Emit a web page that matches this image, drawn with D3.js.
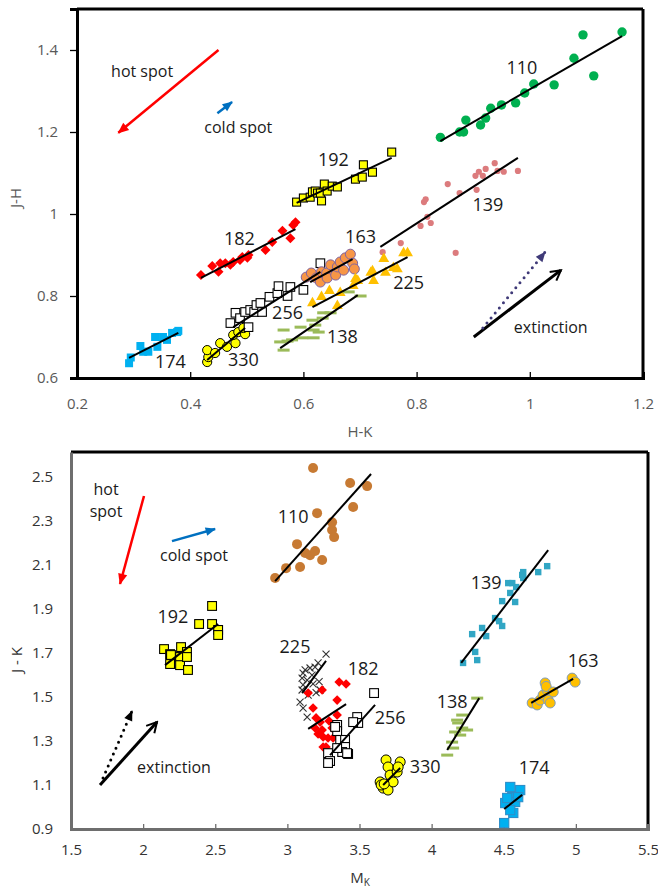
<!DOCTYPE html>
<meta charset="utf-8">
<head>
  <title>Colour-colour and colour-magnitude diagrams</title>
</head>

<style>
body {
  margin: 0;
  background: #fff;
  font-family: "Open Sans", "Liberation Sans", sans-serif;
}
</style>

<body>
  <div id="content">
    <svg width="658" height="888"></svg>
  </div>

  <script src="https://cdnjs.cloudflare.com/ajax/libs/d3/7.8.5/d3.min.js"></script>

  <script>
// ---- top panel: H-K vs J-H ----
var jhGroups = ['110', '139', '192', '182', '174', '330', '256', '163', '225', '138'];

var jh110 = [[0.842,1.187],[0.876,1.200],[0.883,1.200],[0.887,1.229],[0.913,1.217],[0.922,1.234],[0.931,1.258],[0.950,1.266],[0.975,1.271],[0.991,1.295],[1.007,1.317],[1.043,1.315],[1.078,1.380],[1.094,1.437],[1.113,1.337],[1.163,1.444]];
var jh139 = [[0.740,0.907],[0.772,0.929],[0.807,0.971],[0.813,1.029],[0.816,1.036],[0.819,0.993],[0.825,0.978],[0.855,1.073],[0.876,1.051],[0.869,0.905],[0.904,1.093],[0.906,1.059],[0.910,1.103],[0.917,1.093],[0.922,1.110],[0.938,1.124],[0.943,1.105],[0.954,1.103],[0.979,1.105]];
var jh192 = [[0.588,1.029],[0.600,1.039],[0.612,1.041],[0.616,1.054],[0.621,1.056],[0.625,1.051],[0.632,1.032],[0.630,1.051],[0.637,1.073],[0.642,1.056],[0.651,1.068],[0.660,1.066],[0.692,1.085],[0.704,1.090],[0.706,1.120],[0.722,1.102],[0.756,1.151]];
var jh182 = [[0.419,0.851],[0.439,0.873],[0.450,0.859],[0.453,0.880],[0.462,0.880],[0.471,0.876],[0.476,0.883],[0.488,0.888],[0.492,0.895],[0.501,0.893],[0.503,0.900],[0.533,0.912],[0.545,0.932],[0.563,0.959],[0.577,0.941],[0.582,0.973],[0.586,0.980]];
var jh174 = [[0.292,0.636],[0.295,0.650],[0.312,0.678],[0.317,0.664],[0.326,0.664],[0.338,0.700],[0.342,0.676],[0.352,0.700],[0.359,0.693],[0.368,0.710],[0.377,0.712],[0.379,0.715]];
var jh330 = [[0.430,0.639],[0.432,0.651],[0.430,0.668],[0.444,0.661],[0.453,0.685],[0.465,0.676],[0.480,0.685],[0.476,0.705],[0.485,0.712],[0.497,0.707],[0.494,0.722]];
var jh256 = [[0.471,0.734],[0.480,0.759],[0.488,0.746],[0.503,0.724],[0.497,0.761],[0.506,0.766],[0.513,0.761],[0.517,0.778],[0.524,0.783],[0.527,0.761],[0.540,0.798],[0.554,0.807],[0.556,0.824],[0.572,0.800],[0.577,0.822],[0.600,0.815],[0.630,0.880]];
var jh163 = [[0.605,0.846],[0.614,0.856],[0.623,0.844],[0.630,0.834],[0.632,0.859],[0.641,0.856],[0.642,0.844],[0.648,0.876],[0.657,0.851],[0.660,0.871],[0.665,0.883],[0.671,0.863],[0.674,0.893],[0.683,0.902],[0.687,0.880],[0.690,0.866]];
var jh225 = [[0.616,0.785],[0.632,0.800],[0.646,0.815],[0.660,0.778],[0.665,0.810],[0.688,0.827],[0.692,0.844],[0.696,0.839],[0.719,0.859],[0.724,0.839],[0.722,0.863],[0.742,0.893],[0.745,0.859],[0.759,0.871],[0.766,0.868],[0.777,0.907],[0.784,0.907]];
var jh138 = [[0.559,0.688],[0.565,0.668],[0.565,0.717],[0.572,0.690],[0.580,0.693],[0.595,0.724],[0.598,0.698],[0.616,0.741],[0.618,0.717],[0.618,0.698],[0.621,0.729],[0.627,0.712],[0.634,0.746],[0.635,0.759],[0.648,0.759],[0.680,0.810],[0.701,0.800]];

var jhFits = [[0.842,1.178,1.163,1.434],[0.736,0.920,0.979,1.137],[0.588,1.027,0.756,1.137],[0.419,0.844,0.586,0.963],[0.292,0.649,0.379,0.710],[0.430,0.644,0.497,0.722],[0.476,0.724,0.630,0.859],[0.612,0.834,0.687,0.890],[0.616,0.773,0.784,0.895],[0.559,0.673,0.696,0.802]];
var jhLabels = [[0.986,1.356],[0.926,1.022],[0.653,1.132],[0.487,0.939],[0.365,0.639],[0.494,0.644],[0.572,0.759],[0.701,0.944],[0.786,0.832],[0.669,0.700]];

var jhXTicks = [0.2, 0.4, 0.6, 0.8, 1.0, 1.2];
var jhXTickLabels = ['0.2', '0.4', '0.6', '0.8', '1', '1.2'];
var jhYTicks = [0.6, 0.8, 1.0, 1.2, 1.4];
var jhYTickLabels = ['0.6', '0.8', '1', '1.2', '1.4'];

// ---- bottom panel: M_K vs J-K ----
var jkGroups = ['110', '192', '139', '163', '138', '174', '330', '225', '182', '256'];

var jk110 = [[2.915,2.041],[2.991,2.086],[3.067,2.195],[3.088,2.091],[3.123,2.155],[3.157,2.145],[3.192,2.164],[3.206,2.336],[3.178,2.541],[3.241,2.123],[3.310,2.295],[3.310,2.259],[3.324,2.227],[3.456,2.364],[3.435,2.473],[3.553,2.459]];
var jk192 = [[2.145,1.718],[2.187,1.695],[2.263,1.727],[2.304,1.705],[2.388,1.832],[2.478,1.914],[2.478,1.832],[2.520,1.805],[2.520,1.782],[2.193,1.691],[2.256,1.682],[2.187,1.650],[2.256,1.645],[2.304,1.682],[2.311,1.623]];
var jk139 = [[4.218,1.655],[4.316,1.668],[4.302,1.705],[4.281,1.786],[4.350,1.814],[4.378,1.777],[4.440,1.859],[4.468,1.845],[4.489,1.823],[4.489,1.936],[4.545,1.973],[4.579,1.932],[4.531,2.018],[4.559,2.018],[4.586,2.000],[4.628,2.055],[4.635,2.068],[4.635,2.041],[4.739,2.068],[4.801,2.095]];
var jk163 = [[4.697,1.473],[4.732,1.464],[4.752,1.486],[4.773,1.509],[4.801,1.532],[4.808,1.486],[4.822,1.473],[4.787,1.564],[4.794,1.548],[4.843,1.523],[4.974,1.586],[4.995,1.568]];
var jk138 = [[4.316,1.495],[4.177,1.395],[4.184,1.382],[4.212,1.359],[4.163,1.341],[4.198,1.327],[4.142,1.295],[4.149,1.268],[4.108,1.236],[4.246,1.350],[4.212,1.418]];
var jk174 = [[4.503,0.927],[4.545,1.091],[4.614,1.077],[4.559,1.045],[4.510,1.018],[4.566,0.973],[4.579,1.023],[4.545,0.986],[4.600,1.045],[4.524,1.041]];
var jk330 = [[3.684,1.214],[3.698,1.182],[3.712,1.145],[3.643,1.114],[3.664,1.086],[3.698,1.077],[3.733,1.114],[3.761,1.159],[3.782,1.205],[3.768,1.182],[3.650,1.100],[3.671,1.105]];
var jk225 = [[3.268,1.695],[3.213,1.655],[3.192,1.636],[3.157,1.632],[3.123,1.623],[3.109,1.609],[3.102,1.586],[3.137,1.577],[3.109,1.555],[3.171,1.600],[3.102,1.532],[3.144,1.509],[3.088,1.477],[3.109,1.450],[3.137,1.409],[3.178,1.560],[3.220,1.570],[3.227,1.532],[3.199,1.520]];
var jk182 = [[3.359,1.568],[3.407,1.559],[3.241,1.532],[3.144,1.518],[3.345,1.486],[3.178,1.450],[3.199,1.405],[3.227,1.386],[3.289,1.391],[3.192,1.359],[3.241,1.350],[3.213,1.332],[3.248,1.318],[3.282,1.314],[3.310,1.359],[3.248,1.273],[3.268,1.273],[3.317,1.314],[3.345,1.418]];
var jk256 = [[3.601,1.518],[3.484,1.409],[3.491,1.382],[3.456,1.386],[3.345,1.373],[3.345,1.345],[3.366,1.305],[3.400,1.305],[3.400,1.273],[3.380,1.250],[3.421,1.241],[3.282,1.245],[3.296,1.209],[3.282,1.200],[3.331,1.364],[3.414,1.245],[3.345,1.268]];

var jkFits = [[2.915,2.027,3.580,2.514],[2.152,1.645,2.520,1.832],[4.205,1.655,4.808,2.168],[4.690,1.473,4.981,1.582],[4.108,1.259,4.330,1.495],[4.503,0.991,4.628,1.055],[3.664,1.100,3.782,1.177],[3.102,1.518,3.268,1.664],[3.144,1.355,3.407,1.468],[3.296,1.236,3.608,1.464]];
var jkLabels = [[3.040,2.318],[2.207,1.864],[4.378,2.018],[5.051,1.664],[4.142,1.477],[4.711,1.177],[3.955,1.182],[3.053,1.727],[3.525,1.627],[3.712,1.405]];

var jkXTicks = [1.5, 2, 2.5, 3, 3.5, 4, 4.5, 5, 5.5];
var jkXTickLabels = ['1.5', '2', '2.5', '3', '3.5', '4', '4.5', '5', '5.5'];
var jkYTicks = [0.9, 1.1, 1.3, 1.5, 1.7, 1.9, 2.1, 2.3, 2.5];
var jkYTickLabels = ['0.9', '1.1', '1.3', '1.5', '1.7', '1.9', '2.1', '2.3', '2.5'];

// arrows: [x1, y1, x2, y2] in data units
var jhHotSpot = [0.450, 1.400, 0.273, 1.198];
var jhColdSpot = [0.448, 1.246, 0.474, 1.273];
var jhExtinction = [0.901, 0.700, 1.055, 0.863];
var jhExtinction2 = [0.917, 0.722, 1.027, 0.907];
var jkHotSpot = [2.006, 2.414, 1.840, 2.014];
var jkColdSpot = [2.200, 2.209, 2.499, 2.264];
var jkExtinction = [1.701, 1.100, 2.096, 1.386];
var jkExtinction2 = [1.722, 1.132, 1.923, 1.436];

var svg = d3.select('#content svg');

// arrowheads
var defs = svg.append('defs');
function head(id, color, size, open) {
  var m = defs.append('marker')
    .attr('id', id)
    .attr('markerUnits', 'userSpaceOnUse')
    .attr('viewBox', '-12 -7 14 14')
    .attr('refX', 0).attr('refY', 0)
    .attr('markerWidth', size).attr('markerHeight', size)
    .attr('orient', 'auto');
  if (open) {
    m.append('path').attr('d', 'M-10,-5.5L0,0L-10,5.5').attr('fill', 'none')
      .attr('stroke', color).attr('stroke-width', 2);
  } else {
    m.append('path').attr('d', 'M-11,-5L1,0L-11,5Z').attr('fill', color);
  }
}
head('hRed', '#ff0000', 13, false);
head('hBlue', '#0070c0', 12, false);
head('hBlack', '#000', 14, true);
head('hPurple', '#3f3a78', 12, false);
head('hBlackFill', '#000', 12, false);

var jhStyle = {
  '110': {shape: 'circle', r: 4.7, fill: '#00b050'},
  '139': {shape: 'circle', r: 3.1, fill: '#dc7b7d'},
  '192': {shape: 'square', r: 4, fill: '#ffff00', stroke: '#000'},
  '182': {shape: 'diamond', r: 5, fill: '#ff0000'},
  '174': {shape: 'square', r: 4, fill: '#00b0f0'},
  '330': {shape: 'circle', r: 4.6, fill: '#ffff00', stroke: '#000'},
  '256': {shape: 'square', r: 4.3, fill: '#fff', stroke: '#000'},
  '163': {shape: 'circle', r: 5, fill: '#f79646', stroke: '#8064a2'},
  '225': {shape: 'triangle', r: 5.4, fill: '#ffc000'},
  '138': {shape: 'dash', r: 6, fill: '#9bbb59'}
};
var jkStyle = {
  '110': {shape: 'circle', r: 5, fill: '#c77a33'},
  '192': {shape: 'square', r: 4.4, fill: '#ffff00', stroke: '#000'},
  '139': {shape: 'square', r: 3.2, fill: '#31a6c4'},
  '163': {shape: 'circle', r: 5, fill: '#ffc000', stroke: '#7f9cbc'},
  '138': {shape: 'dash', r: 6, fill: '#9bbb59'},
  '174': {shape: 'square', r: 4.6, fill: '#00b0f0', stroke: '#2c8ec9'},
  '330': {shape: 'circle', r: 5, fill: '#ffff00', stroke: '#000'},
  '225': {shape: 'cross', r: 3.5, fill: 'none', stroke: '#333'},
  '182': {shape: 'diamond', r: 4.8, fill: '#ff0000'},
  '256': {shape: 'square', r: 4.4, fill: '#fff', stroke: '#000'}
};

function marker(g, st, cx, cy) {
  var r = st.r;
  if (st.shape === 'circle') {
    g.append('circle').attr('cx', cx).attr('cy', cy).attr('r', r)
      .attr('fill', st.fill).attr('stroke', st.stroke || 'none').attr('stroke-width', 1);
  } else if (st.shape === 'square') {
    g.append('rect').attr('x', cx - r).attr('y', cy - r).attr('width', 2 * r).attr('height', 2 * r)
      .attr('fill', st.fill).attr('stroke', st.stroke || 'none').attr('stroke-width', 1.1);
  } else if (st.shape === 'diamond') {
    g.append('path').attr('d', 'M' + cx + ',' + (cy - r) + 'L' + (cx + r) + ',' + cy + 'L' + cx + ',' + (cy + r) + 'L' + (cx - r) + ',' + cy + 'Z')
      .attr('fill', st.fill);
  } else if (st.shape === 'triangle') {
    g.append('path').attr('d', 'M' + cx + ',' + (cy - r) + 'L' + (cx + r) + ',' + (cy + r * 0.75) + 'L' + (cx - r) + ',' + (cy + r * 0.75) + 'Z')
      .attr('fill', st.fill);
  } else if (st.shape === 'dash') {
    g.append('rect').attr('x', cx - r).attr('y', cy - 1.5).attr('width', 2 * r).attr('height', 3)
      .attr('fill', st.fill);
  } else if (st.shape === 'cross') {
    g.append('path').attr('d', 'M' + (cx - r) + ',' + (cy - r) + 'L' + (cx + r) + ',' + (cy + r) + 'M' + (cx - r) + ',' + (cy + r) + 'L' + (cx + r) + ',' + (cy - r))
      .attr('fill', 'none').attr('stroke', st.stroke).attr('stroke-width', 1.1);
  }
}

function arrow(g, x, y, a, color, width, headId, dotted) {
  var l = g.append('line')
    .attr('x1', x(a[0])).attr('y1', y(a[1]))
    .attr('x2', x(a[2])).attr('y2', y(a[3]))
    .attr('stroke', color).attr('stroke-width', width)
    .attr('marker-end', 'url(#' + headId + ')');
  if (dotted) l.attr('stroke-dasharray', '0 6.5').attr('stroke-linecap', 'round');
}

function note(g, px, py, txt, size) {
  g.append('text').attr('x', px).attr('y', py).attr('dy', '0.35em')
    .attr('text-anchor', 'middle').attr('font-size', size).attr('fill', '#1a1a1a').text(txt);
}

function panel(opt) {
  var x = d3.scaleLinear().domain(opt.xDomain).range([opt.left, opt.right]);
  var y = d3.scaleLinear().domain(opt.yDomain).range([opt.bottom, opt.top]);
  var g = svg.append('g');

  // frame
  g.append('line').attr('x1', opt.left).attr('x2', opt.right).attr('y1', opt.top).attr('y2', opt.top)
    .attr('stroke', '#000').attr('stroke-width', 3);
  g.append('line').attr('x1', opt.right).attr('x2', opt.right).attr('y1', opt.top).attr('y2', opt.bottom)
    .attr('stroke', '#000').attr('stroke-width', 3);

  var xAxis = d3.axisBottom(x).tickValues(opt.xTicks).tickSize(-opt.xTickLen).tickPadding(opt.xPad)
    .tickFormat(function(d, i) { return opt.xTickLabels[i]; });
  var yAxis = d3.axisLeft(y).tickValues(opt.yTicks).tickSize(opt.yTickLen).tickPadding(opt.yPad)
    .tickFormat(function(d, i) { return opt.yTickLabels[i]; });

  var gx = g.append('g').attr('transform', 'translate(0,' + opt.bottom + ')').call(xAxis);
  var gy = g.append('g').attr('transform', 'translate(' + opt.left + ',0)').call(yAxis);
  [gx, gy].forEach(function(a) {
    a.attr('font-family', '"Open Sans", sans-serif').attr('font-size', 15);
    a.select('.domain').attr('stroke', opt.axisColor).attr('stroke-width', 3);
    a.selectAll('.tick line').attr('stroke', opt.axisColor).attr('stroke-width', 1.3);
    a.selectAll('.tick text').attr('fill', opt.labelColor);
  });

  // points
  opt.groups.forEach(function(name, i) {
    var st = opt.style[name];
    var pg = g.append('g');
    opt.points[i].forEach(function(p) { marker(pg, st, x(p[0]), y(p[1])); });
  });
  // trend lines
  opt.fits.forEach(function(f) {
    g.append('line').attr('x1', x(f[0])).attr('y1', y(f[1])).attr('x2', x(f[2])).attr('y2', y(f[3]))
      .attr('stroke', '#000').attr('stroke-width', 2);
  });
  opt.labels.forEach(function(p, i) {
    note(g, x(p[0]), y(p[1]), opt.groups[i], 18);
  });
  return {g: g, x: x, y: y};
}

// top panel
var topP = panel({
  left: 77, right: 643, top: 9, bottom: 378,
  xDomain: [0.2, 1.2], yDomain: [0.6, 1.5],
  xTicks: jhXTicks, xTickLabels: jhXTickLabels, yTicks: jhYTicks, yTickLabels: jhYTickLabels,
  xTickLen: 6, xPad: 20, yTickLen: 7, yPad: 12,
  axisColor: '#000', labelColor: '#595959',
  groups: jhGroups,
  points: [jh110, jh139, jh192, jh182, jh174, jh330, jh256, jh163, jh225, jh138],
  fits: jhFits, labels: jhLabels, style: jhStyle
});
arrow(topP.g, topP.x, topP.y, jhHotSpot, '#ff0000', 2.5, 'hRed');
arrow(topP.g, topP.x, topP.y, jhColdSpot, '#0070c0', 2.5, 'hBlue');
arrow(topP.g, topP.x, topP.y, jhExtinction, '#000', 3, 'hBlack');
arrow(topP.g, topP.x, topP.y, jhExtinction2, '#3f3a78', 3, 'hPurple', true);
note(topP.g, topP.x(0.315), topP.y(1.349), 'hot spot', 16);
note(topP.g, topP.x(0.485), topP.y(1.212), 'cold spot', 16);
note(topP.g, topP.x(1.037), topP.y(0.724), 'extinction', 16);
topP.g.append('text').attr('x', 360).attr('y', 432).attr('dy', '0.35em').attr('text-anchor', 'middle')
  .attr('font-size', 15).attr('fill', '#595959').text('H-K');
topP.g.append('text').attr('transform', 'translate(16,198) rotate(-90)').attr('dy', '0.35em')
  .attr('text-anchor', 'middle').attr('font-size', 15).attr('fill', '#595959').text('J-H');

// bottom panel
var botP = panel({
  left: 71, right: 648, top: 452, bottom: 829,
  xDomain: [1.5, 5.5], yDomain: [0.9, 2.614],
  xTicks: jkXTicks, xTickLabels: jkXTickLabels, yTicks: jkYTicks, yTickLabels: jkYTickLabels,
  xTickLen: 5, xPad: 15, yTickLen: 0, yPad: 18,
  axisColor: '#6e6e6e', labelColor: '#333',
  groups: jkGroups,
  points: [jk110, jk192, jk139, jk163, jk138, jk174, jk330, jk225, jk182, jk256],
  fits: jkFits, labels: jkLabels, style: jkStyle
});
arrow(botP.g, botP.x, botP.y, jkHotSpot, '#ff0000', 2.5, 'hRed');
arrow(botP.g, botP.x, botP.y, jkColdSpot, '#0070c0', 2.5, 'hBlue');
arrow(botP.g, botP.x, botP.y, jkExtinction, '#000', 3, 'hBlack');
arrow(botP.g, botP.x, botP.y, jkExtinction2, '#000', 3, 'hBlackFill', true);
note(botP.g, botP.x(1.743), botP.y(2.445), 'hot', 16);
note(botP.g, botP.x(1.743), botP.y(2.345), 'spot', 16);
note(botP.g, botP.x(2.353), botP.y(2.145), 'cold spot', 16);
note(botP.g, botP.x(2.214), botP.y(1.182), 'extinction', 16);
var mk = botP.g.append('text').attr('x', 360).attr('y', 878).attr('dy', '0.35em').attr('text-anchor', 'middle')
  .attr('font-size', 15).attr('fill', '#333');
mk.append('tspan').text('M');
mk.append('tspan').attr('font-size', 10).attr('dy', 3).text('K');
botP.g.append('text').attr('transform', 'translate(17,660) rotate(-90)').attr('dy', '0.35em')
  .attr('text-anchor', 'middle').attr('font-size', 15).attr('fill', '#333').text('J - K');
  </script>
</body>
</html>
